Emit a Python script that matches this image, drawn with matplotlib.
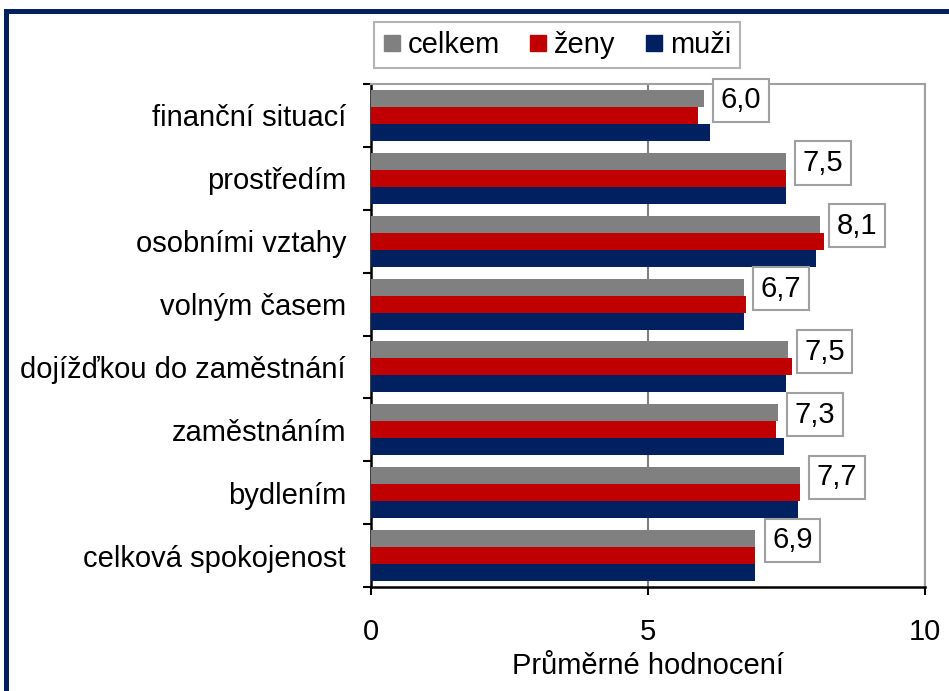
import matplotlib.pyplot as plt
from matplotlib.lines import Line2D
from matplotlib.patches import Rectangle
from matplotlib.ticker import FixedLocator
import numpy as np

plt.rcParams['font.family'] = ['Liberation Sans', 'DejaVu Sans']

kategorie = ["finanční situací", "prostředím", "osobními vztahy", "volným časem",
             "dojížďkou do zaměstnání", "zaměstnáním", "bydlením", "celková spokojenost"]
celkem = [6.01, 7.49, 8.11, 6.73, 7.52, 7.34, 7.74, 6.94]
zeny = [5.90, 7.49, 8.18, 6.77, 7.60, 7.31, 7.75, 6.94]
muzi = [6.12, 7.49, 8.03, 6.73, 7.49, 7.45, 7.71, 6.94]
xticks = [0, 5, 10]

c_gray = "#808080"
c_red = "#C00000"
c_navy = "#002060"
font = 21

fig = plt.figure(figsize=(9.49, 6.91), dpi=100)
ax = fig.add_axes([371/949, 1-587/691, (925-371)/949, (587-84)/691])

y = np.arange(len(kategorie))
h = 0.27
ax.barh(y - h, celkem, height=h, color=c_gray, zorder=3)
ax.barh(y, zeny, height=h, color=c_red, zorder=3)
ax.barh(y + h, muzi, height=h, color=c_navy, zorder=3)

for yi, v in zip(y, celkem):
    ax.annotate(f"{v:.1f}".replace(".", ","), xy=(v, yi - h), xytext=(12, -1.2),
                textcoords="offset points", ha="left", va="center", fontsize=font,
                bbox=dict(boxstyle="square,pad=0.26", fc="white", ec="#A0A0A0", lw=1.5),
                zorder=5)

ax.set_xlim(0, 10)
ax.set_ylim(len(kategorie) - 0.5, -0.5)
ax.set_xticks(xticks)
ax.set_xticklabels([str(t) for t in xticks], fontsize=font)
ax.set_yticks(y)
ax.set_yticklabels(kategorie, fontsize=font)
ax.yaxis.set_minor_locator(FixedLocator(np.arange(-0.5, len(kategorie), 1)))
ax.tick_params(axis="y", which="major", length=0, pad=18)
ax.tick_params(axis="y", which="minor", length=5.5, width=1.5, direction="out")
ax.tick_params(axis="x", length=6, width=1.5, direction="out", pad=16)
ax.set_xlabel("Průměrné hodnocení", fontsize=font, labelpad=5)

ax.xaxis.grid(True, color=c_gray, lw=1.5, zorder=1)
for s in ["left", "bottom"]:
    ax.spines[s].set_color("black")
    ax.spines[s].set_linewidth(1.8)
for s in ["top", "right"]:
    ax.spines[s].set_color("#A0A0A0")
    ax.spines[s].set_linewidth(1.5)

handles = [Line2D([], [], marker="s", linestyle="", color=c, markersize=11.5)
           for c in (c_gray, c_red, c_navy)]
leg = fig.legend(handles, ["celkem", "ženy", "muži"], loc="upper left",
                 bbox_to_anchor=(374/949, 1-71/691, 366/949, 49/691), mode="expand",
                 ncol=3, fontsize=font,
                 frameon=True, fancybox=False, edgecolor="#A0A0A0",
                 handlelength=0.6, handletextpad=0.25, columnspacing=0.8,
                 borderpad=0.3, borderaxespad=0)
leg.get_frame().set_linewidth(1.5)

fig.patches.append(Rectangle((5.5/949, -0.1), 1.2, 1.1 - 10.5/691, transform=fig.transFigure,
                             fill=False, edgecolor=c_navy, lw=3.6))

fig.savefig("out.png", dpi=100)
